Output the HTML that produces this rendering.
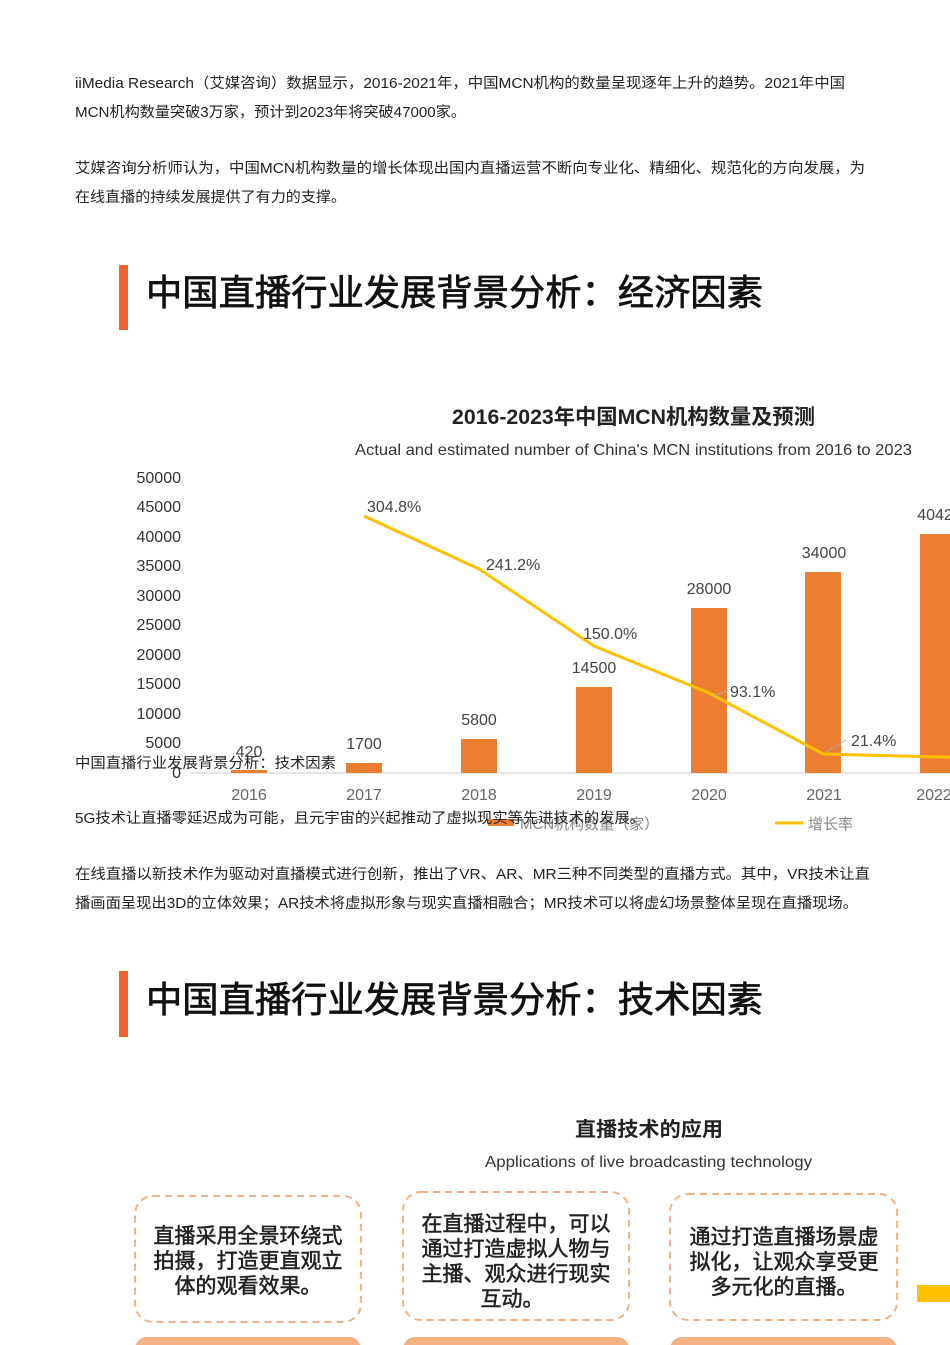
<!DOCTYPE html>
<html><head><meta charset="utf-8">
<style>
html,body{margin:0;padding:0;background:#fff;}
body{width:950px;height:1345px;overflow:hidden;position:relative;}
svg{position:absolute;left:0;top:0;}
</style></head>
<body>
<svg width="950" height="1345" viewBox="0 0 950 1345" xmlns="http://www.w3.org/2000/svg" font-family="Liberation Sans, Noto Sans CJK SC, sans-serif">
<g font-size="14.5" fill="#222">
<text x="75" y="88" textLength="770" lengthAdjust="spacingAndGlyphs">iiMedia Research（艾媒咨询）数据显示，2016-2021年，中国MCN机构的数量呈现逐年上升的趋势。2021年中国</text>
<text x="75" y="117" textLength="391" lengthAdjust="spacingAndGlyphs">MCN机构数量突破3万家，预计到2023年将突破47000家。</text>
<text x="75" y="173" textLength="790" lengthAdjust="spacingAndGlyphs">艾媒咨询分析师认为，中国MCN机构数量的增长体现出国内直播运营不断向专业化、精细化、规范化的方向发展，为</text>
<text x="75" y="202" textLength="271" lengthAdjust="spacingAndGlyphs">在线直播的持续发展提供了有力的支撑。</text>
</g>
<rect x="119" y="265" width="9" height="65" fill="#f4622b"/>
<text x="146" y="305" font-size="36" fill="#111" stroke="#111" stroke-width="0.7" textLength="617" lengthAdjust="spacingAndGlyphs">中国直播行业发展背景分析：经济因素</text>
<text x="452" y="424" font-size="21" font-weight="bold" fill="#222" textLength="363" lengthAdjust="spacingAndGlyphs">2016-2023年中国MCN机构数量及预测</text>
<text x="355" y="455" font-size="16" fill="#333" textLength="557" lengthAdjust="spacingAndGlyphs">Actual and estimated number of China's MCN institutions from 2016 to 2023</text>
<g font-size="16" fill="#333" text-anchor="end">
<text x="181" y="483">50000</text><text x="181" y="512">45000</text><text x="181" y="542">40000</text>
<text x="181" y="571">35000</text><text x="181" y="601">30000</text><text x="181" y="630">25000</text>
<text x="181" y="660">20000</text><text x="181" y="689">15000</text><text x="181" y="719">10000</text>
<text x="181" y="748">5000</text><text x="181" y="778">0</text>
</g>
<line x1="190" y1="773" x2="950" y2="773" stroke="#ddd" stroke-width="1.5"/>
<g fill="#ed7d31">
<rect x="231" y="770" width="36" height="3"/>
<rect x="346" y="763" width="36" height="10"/>
<rect x="461" y="739" width="36" height="34"/>
<rect x="576" y="687" width="36" height="86"/>
<rect x="691" y="608" width="36" height="165"/>
<rect x="805" y="572" width="36" height="201"/>
<rect x="920" y="534" width="36" height="239"/>
</g>
<g font-size="16" fill="#444" text-anchor="middle">
<text x="249" y="757">420</text><text x="364" y="749">1700</text><text x="479" y="725">5800</text>
<text x="594" y="673">14500</text><text x="709" y="594">28000</text><text x="824" y="558">34000</text>
<text x="935" y="520">4042</text>
</g>
<polyline points="364,516 479,569 594,646 709,693 823,754 940,757 950,757" fill="none" stroke="#ffc000" stroke-width="3"/>
<g stroke="#aaa" stroke-width="1"><line x1="712" y1="697" x2="728" y2="690"/><line x1="826" y1="752" x2="846" y2="740"/></g>
<g font-size="16" fill="#444">
<text x="367" y="512">304.8%</text><text x="486" y="570">241.2%</text><text x="583" y="639">150.0%</text>
<text x="730" y="697">93.1%</text><text x="851" y="746">21.4%</text>
</g>
<g font-size="16" fill="#666" text-anchor="middle">
<text x="249" y="800">2016</text><text x="364" y="800">2017</text><text x="479" y="800">2018</text>
<text x="594" y="800">2019</text><text x="709" y="800">2020</text><text x="824" y="800">2021</text><text x="934" y="800">2022</text>
</g>
<rect x="488" y="819" width="26" height="7" fill="#ed7d31"/>
<text x="520" y="829" font-size="15" fill="#888">MCN机构数量（家）</text>
<line x1="775" y1="823" x2="803" y2="823" stroke="#ffc000" stroke-width="3"/>
<text x="808" y="829" font-size="15" fill="#888">增长率</text>
<g font-size="14.5" fill="#222">
<text x="75" y="768" textLength="261" lengthAdjust="spacingAndGlyphs">中国直播行业发展背景分析：技术因素</text>
<text x="75" y="823" textLength="570" lengthAdjust="spacingAndGlyphs">5G技术让直播零延迟成为可能，且元宇宙的兴起推动了虚拟现实等先进技术的发展。</text>
<text x="75" y="879" textLength="795" lengthAdjust="spacingAndGlyphs">在线直播以新技术作为驱动对直播模式进行创新，推出了VR、AR、MR三种不同类型的直播方式。其中，VR技术让直</text>
<text x="75" y="908" textLength="783" lengthAdjust="spacingAndGlyphs">播画面呈现出3D的立体效果；AR技术将虚拟形象与现实直播相融合；MR技术可以将虚幻场景整体呈现在直播现场。</text>
</g>
<rect x="119" y="971" width="9" height="66" fill="#f4622b"/>
<text x="146" y="1012" font-size="36" fill="#111" stroke="#111" stroke-width="0.7" textLength="617" lengthAdjust="spacingAndGlyphs">中国直播行业发展背景分析：技术因素</text>
<text x="575" y="1136" font-size="20" font-weight="bold" fill="#222" textLength="148" lengthAdjust="spacingAndGlyphs">直播技术的应用</text>
<text x="485" y="1167" font-size="16" fill="#333" textLength="327" lengthAdjust="spacingAndGlyphs">Applications of live broadcasting technology</text>
<g fill="none" stroke="#f4b183" stroke-width="2" stroke-dasharray="7,5">
<rect x="135" y="1196" width="226" height="126" rx="18"/>
<rect x="403" y="1192" width="226" height="128" rx="18"/>
<rect x="670" y="1194" width="227" height="126" rx="18"/>
</g>
<g font-size="21" fill="#222" stroke="#222" stroke-width="0.5" text-anchor="middle">
<text x="248" y="1243">直播采用全景环绕式</text><text x="248" y="1268">拍摄，打造更直观立</text><text x="248" y="1293">体的观看效果。</text>
<text x="516" y="1231">在直播过程中，可以</text><text x="516" y="1256">通过打造虚拟人物与</text><text x="516" y="1281">主播、观众进行现实</text><text x="512" y="1306">互动。</text>
<text x="784" y="1244">通过打造直播场景虚</text><text x="784" y="1269">拟化，让观众享受更</text><text x="784" y="1294">多元化的直播。</text>
</g>
<g fill="#f4b183">
<rect x="135" y="1337" width="226" height="30" rx="12"/>
<rect x="403" y="1337" width="226" height="30" rx="12"/>
<rect x="670" y="1337" width="227" height="30" rx="12"/>
</g>
<rect x="917" y="1285" width="33" height="17" fill="#ffc000"/>
</svg>
</body></html>
